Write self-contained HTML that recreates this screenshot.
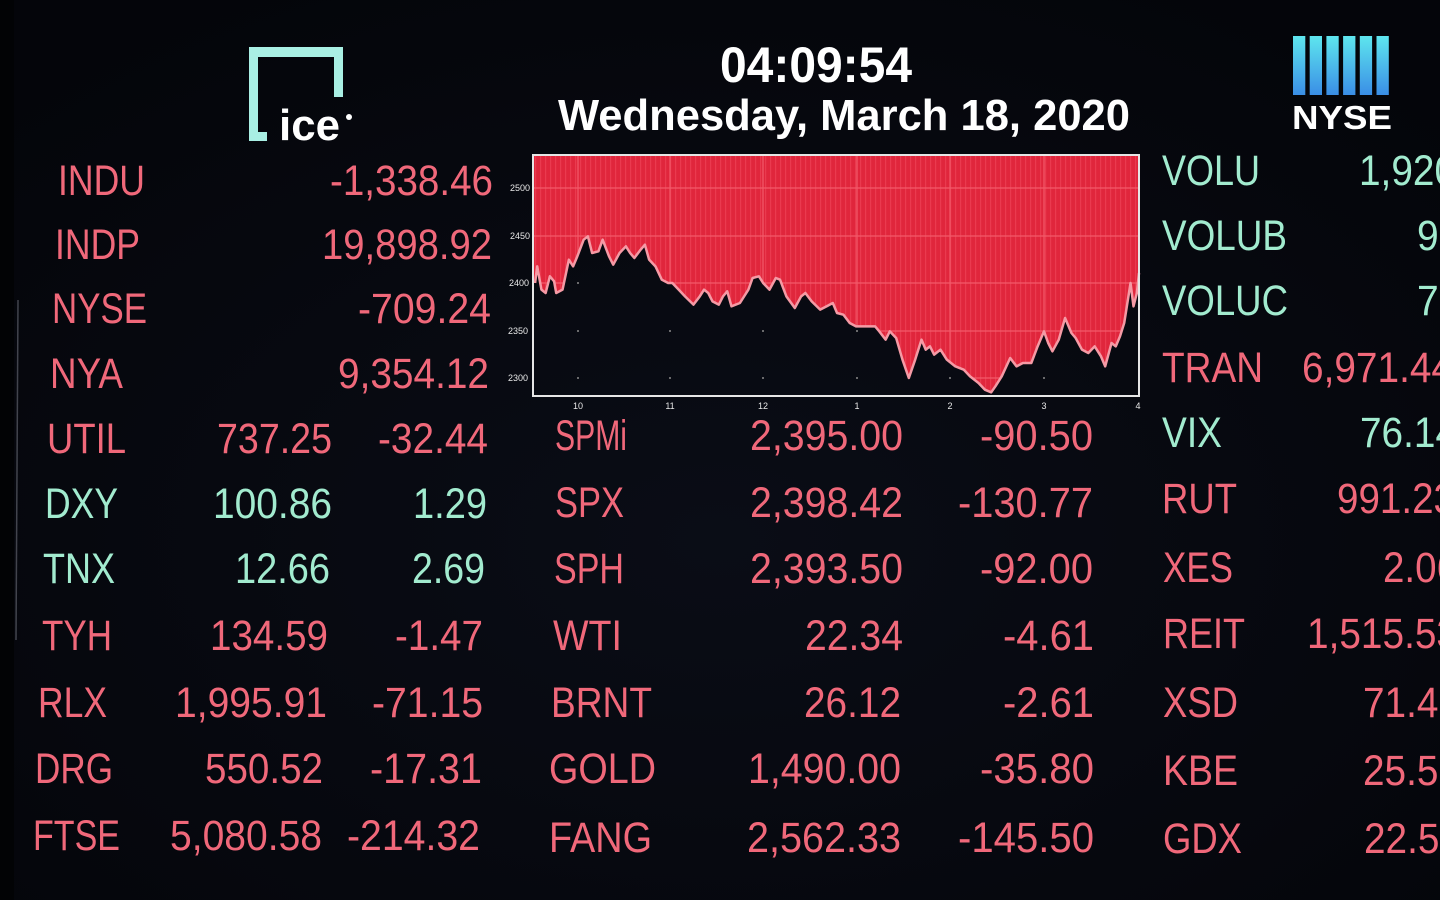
<!DOCTYPE html>
<html>
<head>
<meta charset="utf-8">
<style>
html,body{margin:0;padding:0;background:#05070c;width:1440px;height:900px;overflow:hidden;}
svg{display:block;}
.r{fill:#f0687a;font-family:"Liberation Sans",sans-serif;font-size:42.5px;}
.g{fill:#a2ebcf;font-family:"Liberation Sans",sans-serif;font-size:42.5px;}
.ax{fill:#e8e8e8;font-family:"Liberation Sans",sans-serif;font-size:9px;}
</style>
</head>
<body>
<svg width="1440" height="900" viewBox="0 0 1440 900" xmlns="http://www.w3.org/2000/svg">
<defs>
  <linearGradient id="bar" x1="0" y1="0" x2="0" y2="1">
    <stop offset="0" stop-color="#5ee6ee"/>
    <stop offset="1" stop-color="#3a8ee6"/>
  </linearGradient>
  <radialGradient id="bg" cx="0.5" cy="0.6" r="0.7">
    <stop offset="0" stop-color="#0a0d16"/>
    <stop offset="1" stop-color="#04050a"/>
  </radialGradient>
  <pattern id="stripes" x="0" y="0" width="5" height="10" patternUnits="userSpaceOnUse">
    <rect x="0" y="0" width="1.2" height="10" fill="#f24b5e" opacity="0.55"/>
  </pattern>
  <clipPath id="redc">
    <path transform="matrix(0.4223 0 0 0.33333 499.2 149.67)" d="M80,16 L80,400 L85,400 L90,350 L100,420 L110,430 L120,380 L130,395 L135,430 L150,420 L165,330 L175,350 L185,320 L200,270 L210,260 L220,310 L235,305 L245,270 L260,320 L270,345 L285,310 L300,290 L310,310 L320,325 L335,300 L345,285 L355,330 L370,350 L385,390 L400,400 L410,400 L425,420 L440,440 L460,465 L475,440 L485,420 L495,430 L505,455 L520,465 L530,440 L540,425 L550,470 L570,460 L590,420 L600,385 L615,380 L625,400 L640,420 L655,385 L665,390 L680,440 L700,475 L715,440 L725,430 L740,455 L760,480 L775,470 L790,460 L800,490 L815,495 L830,520 L845,530 L890,530 L900,545 L915,570 L925,545 L940,565 L955,630 L970,685 L985,630 L1000,570 L1010,600 L1020,590 L1030,615 L1045,600 L1060,630 L1080,650 L1100,660 L1115,680 L1135,700 L1150,720 L1165,728 L1175,710 L1190,680 L1210,625 L1225,650 L1240,640 L1260,640 L1275,590 L1290,545 L1300,580 L1310,605 L1325,570 L1340,505 L1355,550 L1365,565 L1380,600 L1395,610 L1410,590 L1425,620 L1435,650 L1450,580 L1460,590 L1470,560 L1480,520 L1495,400 L1502,470 L1510,430 L1515,370 L1515,16 Z"/>
  </clipPath>
</defs>

<rect x="0" y="0" width="1440" height="900" fill="url(#bg)"/>
<rect x="0" y="0" width="14" height="900" fill="#020305"/>
<line x1="18" y1="300" x2="16" y2="640" stroke="#6a6e78" stroke-width="1.5" opacity="0.6"/>

<!-- ICE logo -->
<path d="M249,47 L343,47 L343,97 L334,97 L334,57 L258,57 L258,132 L267,132 L267,141 L249,141 Z" fill="#a9efe4"/>
<text x="279" y="140" font-family="Liberation Sans, sans-serif" font-weight="bold" font-size="44" fill="#ffffff" textLength="61" lengthAdjust="spacingAndGlyphs">ice</text>
<circle cx="349" cy="117" r="3" fill="#ffffff"/>

<!-- Time / date -->
<text x="720" y="82" font-family="Liberation Sans, sans-serif" font-weight="bold" font-size="50" fill="#ffffff" textLength="192" lengthAdjust="spacingAndGlyphs">04:09:54</text>
<text x="558" y="130" font-family="Liberation Sans, sans-serif" font-weight="bold" font-size="44" fill="#ffffff" textLength="572" lengthAdjust="spacingAndGlyphs">Wednesday, March 18, 2020</text>

<!-- NYSE logo -->
<g fill="url(#bar)">
  <rect x="1293" y="36" width="12.3" height="59"/>
  <rect x="1309.7" y="36" width="12.3" height="59"/>
  <rect x="1326.4" y="36" width="12.3" height="59"/>
  <rect x="1343.1" y="36" width="12.3" height="59"/>
  <rect x="1359.8" y="36" width="12.3" height="59"/>
  <rect x="1376.5" y="36" width="12.3" height="59"/>
</g>
<text x="1292" y="129" font-family="Liberation Sans, sans-serif" font-weight="bold" font-size="33" fill="#ffffff" textLength="100" lengthAdjust="spacingAndGlyphs">NYSE</text>

<!-- Chart -->
<g fill="#8a8a8a">
  <circle cx="578" cy="283" r="1"/><circle cx="670" cy="283" r="1"/><circle cx="763" cy="283" r="1"/><circle cx="857" cy="283" r="1"/><circle cx="950" cy="283" r="1"/><circle cx="1044" cy="283" r="1"/>
  <circle cx="578" cy="331" r="1"/><circle cx="670" cy="331" r="1"/><circle cx="763" cy="331" r="1"/><circle cx="857" cy="331" r="1"/><circle cx="950" cy="331" r="1"/><circle cx="1044" cy="331" r="1"/>
  <circle cx="578" cy="378" r="1"/><circle cx="670" cy="378" r="1"/><circle cx="763" cy="378" r="1"/><circle cx="857" cy="378" r="1"/><circle cx="950" cy="378" r="1"/><circle cx="1044" cy="378" r="1"/>
</g>
<g clip-path="url(#redc)">
  <rect x="533" y="155" width="606" height="241" fill="#e0263c"/>
  <rect x="533" y="155" width="606" height="241" fill="url(#stripes)"/>
  <g stroke="#f25a6a" stroke-width="1.2">
    <line x1="533" y1="188" x2="1139" y2="188"/>
    <line x1="533" y1="236" x2="1139" y2="236"/>
    <line x1="533" y1="283" x2="1139" y2="283"/>
    <line x1="533" y1="331" x2="1139" y2="331"/>
    <line x1="533" y1="378" x2="1139" y2="378"/>
    <line x1="578" y1="155" x2="578" y2="396"/>
    <line x1="670" y1="155" x2="670" y2="396"/>
    <line x1="763" y1="155" x2="763" y2="396"/>
    <line x1="857" y1="155" x2="857" y2="396"/>
    <line x1="950" y1="155" x2="950" y2="396"/>
    <line x1="1044" y1="155" x2="1044" y2="396"/>
  </g>
</g>
<path transform="matrix(0.4223 0 0 0.33333 499.2 149.67)" fill="none" stroke="#f59aa5" stroke-width="2.5" stroke-linejoin="round" vector-effect="non-scaling-stroke" d="M85,400 L90,350 L100,420 L110,430 L120,380 L130,395 L135,430 L150,420 L165,330 L175,350 L185,320 L200,270 L210,260 L220,310 L235,305 L245,270 L260,320 L270,345 L285,310 L300,290 L310,310 L320,325 L335,300 L345,285 L355,330 L370,350 L385,390 L400,400 L410,400 L425,420 L440,440 L460,465 L475,440 L485,420 L495,430 L505,455 L520,465 L530,440 L540,425 L550,470 L570,460 L590,420 L600,385 L615,380 L625,400 L640,420 L655,385 L665,390 L680,440 L700,475 L715,440 L725,430 L740,455 L760,480 L775,470 L790,460 L800,490 L815,495 L830,520 L845,530 L890,530 L900,545 L915,570 L925,545 L940,565 L955,630 L970,685 L985,630 L1000,570 L1010,600 L1020,590 L1030,615 L1045,600 L1060,630 L1080,650 L1100,660 L1115,680 L1135,700 L1150,720 L1165,728 L1175,710 L1190,680 L1210,625 L1225,650 L1240,640 L1260,640 L1275,590 L1290,545 L1300,580 L1310,605 L1325,570 L1340,505 L1355,550 L1365,565 L1380,600 L1395,610 L1410,590 L1425,620 L1435,650 L1450,580 L1460,590 L1470,560 L1480,520 L1495,400 L1502,470 L1510,430 L1515,370"/>
<rect x="533" y="155" width="606" height="241" fill="none" stroke="#e6e6e6" stroke-width="2"/>
<text class="ax" x="510" y="191">2500</text>
<text class="ax" x="510" y="239">2450</text>
<text class="ax" x="509" y="286">2400</text>
<text class="ax" x="508" y="334">2350</text>
<text class="ax" x="508" y="381">2300</text>
<text class="ax" x="578" y="409" text-anchor="middle">10</text>
<text class="ax" x="670" y="409" text-anchor="middle">11</text>
<text class="ax" x="763" y="409" text-anchor="middle">12</text>
<text class="ax" x="857" y="409" text-anchor="middle">1</text>
<text class="ax" x="950" y="409" text-anchor="middle">2</text>
<text class="ax" x="1044" y="409" text-anchor="middle">3</text>
<text class="ax" x="1138" y="409" text-anchor="middle">4</text>

<!-- Left column -->
<text class="r" x="58" y="195" textLength="87" lengthAdjust="spacingAndGlyphs">INDU</text>
<text class="r" x="330" y="195" textLength="163" lengthAdjust="spacingAndGlyphs">-1,338.46</text>
<text class="r" x="55" y="259" textLength="85" lengthAdjust="spacingAndGlyphs">INDP</text>
<text class="r" x="322" y="259" textLength="170" lengthAdjust="spacingAndGlyphs">19,898.92</text>
<text class="r" x="52" y="323" textLength="95" lengthAdjust="spacingAndGlyphs">NYSE</text>
<text class="r" x="358" y="323" textLength="133" lengthAdjust="spacingAndGlyphs">-709.24</text>
<text class="r" x="50" y="388" textLength="73" lengthAdjust="spacingAndGlyphs">NYA</text>
<text class="r" x="338" y="388" textLength="151" lengthAdjust="spacingAndGlyphs">9,354.12</text>
<text class="r" x="47" y="453" textLength="79" lengthAdjust="spacingAndGlyphs">UTIL</text>
<text class="r" x="217" y="453" textLength="115" lengthAdjust="spacingAndGlyphs">737.25</text>
<text class="r" x="378" y="453" textLength="110" lengthAdjust="spacingAndGlyphs">-32.44</text>
<text class="g" x="45" y="518" textLength="73" lengthAdjust="spacingAndGlyphs">DXY</text>
<text class="g" x="213" y="518" textLength="119" lengthAdjust="spacingAndGlyphs">100.86</text>
<text class="g" x="413" y="518" textLength="74" lengthAdjust="spacingAndGlyphs">1.29</text>
<text class="g" x="43" y="583" textLength="72" lengthAdjust="spacingAndGlyphs">TNX</text>
<text class="g" x="235" y="583" textLength="95" lengthAdjust="spacingAndGlyphs">12.66</text>
<text class="g" x="412" y="583" textLength="73" lengthAdjust="spacingAndGlyphs">2.69</text>
<text class="r" x="42" y="650" textLength="70" lengthAdjust="spacingAndGlyphs">TYH</text>
<text class="r" x="210" y="650" textLength="118" lengthAdjust="spacingAndGlyphs">134.59</text>
<text class="r" x="395" y="650" textLength="88" lengthAdjust="spacingAndGlyphs">-1.47</text>
<text class="r" x="38" y="717" textLength="69" lengthAdjust="spacingAndGlyphs">RLX</text>
<text class="r" x="175" y="717" textLength="152" lengthAdjust="spacingAndGlyphs">1,995.91</text>
<text class="r" x="372" y="717" textLength="111" lengthAdjust="spacingAndGlyphs">-71.15</text>
<text class="r" x="35" y="783" textLength="78" lengthAdjust="spacingAndGlyphs">DRG</text>
<text class="r" x="205" y="783" textLength="118" lengthAdjust="spacingAndGlyphs">550.52</text>
<text class="r" x="370" y="783" textLength="112" lengthAdjust="spacingAndGlyphs">-17.31</text>
<text class="r" x="33" y="850" textLength="87" lengthAdjust="spacingAndGlyphs">FTSE</text>
<text class="r" x="170" y="850" textLength="152" lengthAdjust="spacingAndGlyphs">5,080.58</text>
<text class="r" x="347" y="850" textLength="133" lengthAdjust="spacingAndGlyphs">-214.32</text>

<!-- Middle column -->
<text class="r" x="555" y="450" textLength="72" lengthAdjust="spacingAndGlyphs">SPMi</text>
<text class="r" x="750" y="450" textLength="153" lengthAdjust="spacingAndGlyphs">2,395.00</text>
<text class="r" x="980" y="450" textLength="113" lengthAdjust="spacingAndGlyphs">-90.50</text>
<text class="r" x="555" y="517" textLength="69" lengthAdjust="spacingAndGlyphs">SPX</text>
<text class="r" x="750" y="517" textLength="153" lengthAdjust="spacingAndGlyphs">2,398.42</text>
<text class="r" x="958" y="517" textLength="135" lengthAdjust="spacingAndGlyphs">-130.77</text>
<text class="r" x="554" y="583" textLength="70" lengthAdjust="spacingAndGlyphs">SPH</text>
<text class="r" x="750" y="583" textLength="153" lengthAdjust="spacingAndGlyphs">2,393.50</text>
<text class="r" x="980" y="583" textLength="113" lengthAdjust="spacingAndGlyphs">-92.00</text>
<text class="r" x="553" y="650" textLength="69" lengthAdjust="spacingAndGlyphs">WTI</text>
<text class="r" x="805" y="650" textLength="98" lengthAdjust="spacingAndGlyphs">22.34</text>
<text class="r" x="1003" y="650" textLength="91" lengthAdjust="spacingAndGlyphs">-4.61</text>
<text class="r" x="551" y="717" textLength="101" lengthAdjust="spacingAndGlyphs">BRNT</text>
<text class="r" x="804" y="717" textLength="97" lengthAdjust="spacingAndGlyphs">26.12</text>
<text class="r" x="1003" y="717" textLength="91" lengthAdjust="spacingAndGlyphs">-2.61</text>
<text class="r" x="549" y="783" textLength="107" lengthAdjust="spacingAndGlyphs">GOLD</text>
<text class="r" x="748" y="783" textLength="153" lengthAdjust="spacingAndGlyphs">1,490.00</text>
<text class="r" x="980" y="783" textLength="114" lengthAdjust="spacingAndGlyphs">-35.80</text>
<text class="r" x="549" y="852" textLength="103" lengthAdjust="spacingAndGlyphs">FANG</text>
<text class="r" x="747" y="852" textLength="154" lengthAdjust="spacingAndGlyphs">2,562.33</text>
<text class="r" x="958" y="852" textLength="136" lengthAdjust="spacingAndGlyphs">-145.50</text>

<!-- Right column -->
<text class="g" x="1162" y="185" textLength="98" lengthAdjust="spacingAndGlyphs">VOLU</text>
<text class="g" x="1359" y="185" textLength="97" lengthAdjust="spacingAndGlyphs">1,920</text>
<text class="g" x="1162" y="250" textLength="125" lengthAdjust="spacingAndGlyphs">VOLUB</text>
<text class="g" x="1417" y="250" textLength="65" lengthAdjust="spacingAndGlyphs">921</text>
<text class="g" x="1162" y="315" textLength="126" lengthAdjust="spacingAndGlyphs">VOLUC</text>
<text class="g" x="1417" y="315" textLength="65" lengthAdjust="spacingAndGlyphs">769</text>
<text class="r" x="1162" y="382" textLength="101" lengthAdjust="spacingAndGlyphs">TRAN</text>
<text class="r" x="1302" y="382" textLength="151" lengthAdjust="spacingAndGlyphs">6,971.44</text>
<text class="g" x="1162" y="447" textLength="60" lengthAdjust="spacingAndGlyphs">VIX</text>
<text class="g" x="1360" y="447" textLength="97" lengthAdjust="spacingAndGlyphs">76.14</text>
<text class="r" x="1162" y="513" textLength="75" lengthAdjust="spacingAndGlyphs">RUT</text>
<text class="r" x="1337" y="513" textLength="118" lengthAdjust="spacingAndGlyphs">991.23</text>
<text class="r" x="1163" y="582" textLength="70" lengthAdjust="spacingAndGlyphs">XES</text>
<text class="r" x="1383" y="582" textLength="75" lengthAdjust="spacingAndGlyphs">2.06</text>
<text class="r" x="1163" y="648" textLength="82" lengthAdjust="spacingAndGlyphs">REIT</text>
<text class="r" x="1307" y="648" textLength="151" lengthAdjust="spacingAndGlyphs">1,515.53</text>
<text class="r" x="1163" y="717" textLength="75" lengthAdjust="spacingAndGlyphs">XSD</text>
<text class="r" x="1363" y="717" textLength="97" lengthAdjust="spacingAndGlyphs">71.45</text>
<text class="r" x="1163" y="785" textLength="75" lengthAdjust="spacingAndGlyphs">KBE</text>
<text class="r" x="1363" y="785" textLength="97" lengthAdjust="spacingAndGlyphs">25.52</text>
<text class="r" x="1163" y="853" textLength="79" lengthAdjust="spacingAndGlyphs">GDX</text>
<text class="r" x="1364" y="853" textLength="97" lengthAdjust="spacingAndGlyphs">22.52</text>
</svg>
</body>
</html>
